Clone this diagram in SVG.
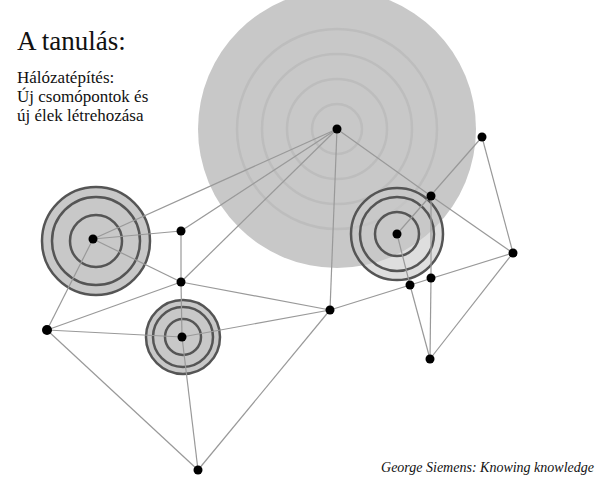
<svg xmlns="http://www.w3.org/2000/svg" width="608" height="480" viewBox="0 0 608 480">
<style>
.e{stroke:#999;stroke-width:1.2;fill:none}
.r{fill:none;stroke:#555;stroke-width:2.5}
.f{fill:#c8c8c8;stroke:#555;stroke-width:2.5}
.br{fill:none;stroke:#bdbdbd;stroke-width:2.5}
.n{fill:#000}
text{font-family:"Liberation Serif",serif;fill:#111}
</style>
<rect width="608" height="480" fill="#fff"/>
<g id="big"><circle cx="337" cy="129" r="139" fill="#c8c8c8"/>
<circle class="br" cx="337" cy="129" r="25"/><circle class="br" cx="337" cy="129" r="50"/><circle class="br" cx="337" cy="129" r="75"/><circle class="br" cx="337" cy="129" r="100"/></g>
<g id="rings">
<circle class="f" cx="397" cy="234" r="46" style="fill-opacity:0.6"/><circle class="r" cx="397" cy="234" r="37"/><circle class="r" cx="397" cy="234" r="22"/>
<circle class="f" cx="96" cy="241" r="54"/><circle class="r" cx="96" cy="241" r="44"/><circle class="r" cx="96" cy="241" r="26"/>
<circle class="f" cx="183" cy="337" r="37"/><circle class="r" cx="183" cy="337" r="30"/><circle class="r" cx="183" cy="337" r="18"/>
</g>
<g id="connectors" class="e">
<line x1="337" y1="129" x2="93" y2="239"/><line x1="337" y1="129" x2="181" y2="231"/><line x1="337" y1="129" x2="181" y2="282"/><line x1="337" y1="129" x2="330" y2="310"/><line x1="337" y1="129" x2="431" y2="196"/>
<line x1="431" y1="196" x2="513" y2="253"/><line x1="482" y1="137" x2="397" y2="234"/><line x1="482" y1="137" x2="513" y2="253"/>
<line x1="431" y1="196" x2="431" y2="278"/><line x1="431" y1="278" x2="430" y2="359"/><line x1="513" y1="253" x2="430" y2="359"/>
<line x1="397" y1="234" x2="410" y2="285"/><line x1="410" y1="285" x2="430" y2="359"/>
<line x1="330" y1="310" x2="513" y2="253"/>
<line x1="93" y1="239" x2="181" y2="231"/><line x1="93" y1="239" x2="181" y2="282"/><line x1="181" y1="231" x2="181" y2="282"/><line x1="181" y1="282" x2="182" y2="337"/>
<line x1="93" y1="239" x2="47" y2="330"/><line x1="47" y1="330" x2="181" y2="282"/><line x1="47" y1="330" x2="182" y2="337"/><line x1="47" y1="330" x2="198" y2="470"/>
<line x1="182" y1="337" x2="198" y2="470"/><line x1="182" y1="337" x2="330" y2="310"/><line x1="181" y1="282" x2="330" y2="310"/><line x1="330" y1="310" x2="198" y2="470"/>
</g>
<g id="nodes">
<circle id="nA" class="n" cx="337" cy="129" r="4.5"/><circle id="nB" class="n" cx="482" cy="137" r="4.5"/><circle id="nC" class="n" cx="431" cy="196" r="4.5"/><circle id="nD" class="n" cx="397" cy="234" r="4.5"/><circle id="nE" class="n" cx="513" cy="253" r="4.5"/><circle id="nF" class="n" cx="431" cy="278" r="4.5"/><circle id="nG" class="n" cx="410" cy="285" r="4.5"/><circle id="nH" class="n" cx="430" cy="359" r="4.5"/><circle id="nI" class="n" cx="330" cy="310" r="4.5"/><circle id="nJ" class="n" cx="181" cy="231" r="4.5"/><circle id="nK" class="n" cx="181" cy="282" r="4.5"/><circle id="nL" class="n" cx="93" cy="239" r="4.5"/><circle id="nM" class="n" cx="47" cy="330" r="5"/><circle id="nN" class="n" cx="182" cy="337" r="4.5"/><circle id="nO" class="n" cx="198" cy="470" r="4.5"/>
</g>
<text x="17" y="50" font-size="27">A tanulás:</text>
<text x="17" y="83" font-size="17">Hálózatépítés:</text>
<text x="17" y="102" font-size="17">Új csomópontok és</text>
<text x="17" y="121" font-size="17">új élek létrehozása</text>
<text x="594" y="472" font-size="14" font-style="italic" text-anchor="end">George Siemens: Knowing knowledge</text>
</svg>
